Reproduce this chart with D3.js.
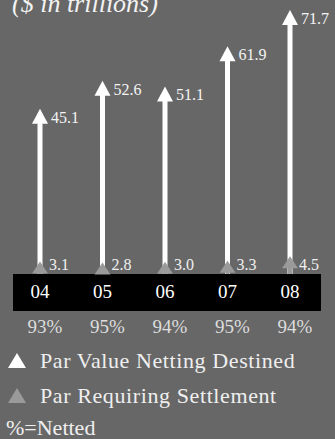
<!DOCTYPE html>
<html>
<head>
<meta charset="utf-8">
<script src="https://cdn.jsdelivr.net/npm/d3@7"></script>
<style>
  html, body { margin: 0; padding: 0; background: #676767; }
  svg { display: block; }
</style>
</head>
<body>
<svg id="chart"></svg>
<script>
const years = ['04', '05', '06', '07', '08']
const netting = [45.1, 52.6, 51.1, 61.9, 71.7]
const settlement = [3.1, 2.8, 3.0, 3.3, 4.5]
const netted = ['93%', '95%', '94%', '95%', '94%']
const legendLabels = ['Par Value Netting Destined', 'Par Requiring Settlement']

const width = 335
const height = 439
const font = '"Liberation Serif", "DejaVu Serif", serif'

const svg = d3.select('#chart').attr('width', width).attr('height', height)

svg.append('rect').attr('width', width).attr('height', height).attr('fill', '#676767')

// title, mostly cropped off the top
svg.append('text')
    .attr('x', 12)
    .attr('y', 12)
    .attr('font-family', font)
    .attr('font-style', 'italic')
    .attr('font-size', 26)
    .attr('fill', '#f2f2f2')
    .text('($ in trillions)')

const x = d3.scalePoint().domain(years).range([40, 290])
const y = d3.scaleLinear().domain([0, 71.7]).range([276, 10])

const headW = 16
const headH = 15
const shaftW = 5

// black year band
svg.append('rect')
    .attr('x', 13)
    .attr('y', 274)
    .attr('width', 308)
    .attr('height', 37)
    .attr('fill', '#000000')

const groups = svg.selectAll('.year')
    .data(years)
    .join('g')
    .attr('class', 'year')
    .attr('transform', (d) => `translate(${x(d)},0)`)

groups.each(function (d, i) {
    const g = d3.select(this)

    // big white arrow
    const top = y(netting[i])
    g.append('rect')
        .attr('x', -shaftW / 2)
        .attr('y', top + headH - 1)
        .attr('width', shaftW)
        .attr('height', 274 - top - headH + 1)
        .attr('fill', '#ffffff')
    g.append('path')
        .attr('d', `M0,${top} L${headW / 2},${top + headH} L${-headW / 2},${top + headH} Z`)
        .attr('fill', '#ffffff')
    g.append('text')
        .attr('x', 11)
        .attr('y', top + 14)
        .attr('font-family', font)
        .attr('font-size', 16)
        .attr('fill', '#f4f4f4')
        .text(netting[i].toFixed(1))

    // small grey arrow
    const sTop = y(settlement[i]) - 3
    g.append('rect')
        .attr('x', -2)
        .attr('y', sTop + 8)
        .attr('width', 4)
        .attr('height', 274 - sTop - 8)
        .attr('fill', '#9a9a9a')
    g.append('path')
        .attr('d', `M0,${sTop} L8,${sTop + 12} L-8,${sTop + 12} Z`)
        .attr('fill', '#9a9a9a')
    g.append('text')
        .attr('x', 9)
        .attr('y', 270)
        .attr('font-family', font)
        .attr('font-size', 16)
        .attr('fill', '#f0f0f0')
        .text(settlement[i].toFixed(1))

    g.append('text')
        .attr('x', 0)
        .attr('y', 298)
        .attr('text-anchor', 'middle')
        .attr('font-family', font)
        .attr('font-size', 19)
        .attr('fill', '#ffffff')
        .text(d)
    g.append('text')
        .attr('x', 5)
        .attr('y', 333)
        .attr('text-anchor', 'middle')
        .attr('font-family', font)
        .attr('font-size', 19)
        .attr('fill', '#dddddd')
        .text(netted[i])
})

// legend
const legendColors = ['#ffffff', '#9a9a9a']
legendLabels.forEach((label, i) => {
    const cy = 361 + i * 35
    svg.append('path')
        .attr('d', `M17,${cy - 8} L26,${cy + 7} L8,${cy + 7} Z`)
        .attr('fill', legendColors[i])
    svg.append('text')
        .attr('x', 40)
        .attr('y', cy + 7)
        .attr('font-family', font)
        .attr('font-size', 22)
        .attr('letter-spacing', 0.6)
        .attr('fill', '#efefef')
        .text(label)
})

svg.append('text')
    .attr('x', 6)
    .attr('y', 435)
    .attr('font-family', font)
    .attr('font-size', 22)
    .attr('fill', '#efefef')
    .text('%=Netted')
</script>
</body>
</html>
